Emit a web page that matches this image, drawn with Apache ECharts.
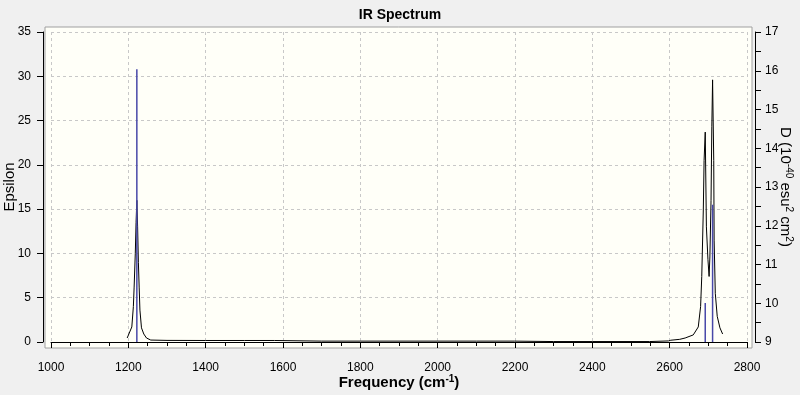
<!DOCTYPE html>
<html><head><meta charset="utf-8">
<script src="https://cdn.jsdelivr.net/npm/echarts@6/dist/echarts.min.js"></script>
<style>html,body{margin:0;padding:0;background:#f0f0f0}#c{width:800px;height:395px}</style>
</head><body><div id="c"></div>
<script>
// Spectrum curve (frequency in cm-1, epsilon)
var curveFreq = [1197,1209,1213,1215,1218,1220,1222,1224,1226,1228,1230,1234,1240,1247,1258,1300,1400,1500,1578,1582,1700,1800,1900,2000,2100,2198,2203,2300,2400,2500,2548,2552,2597,2603,2626,2640,2661,2674,2680,2683,2687,2689,2692,2695,2699,2702,2704,2707,2709,2711,2714,2715,2718,2723,2730,2737];
var curveEps  = [0.45,1.7,4.0,6.2,10.0,13.5,16.0,13.0,9.0,6.2,3.6,1.6,0.9,0.45,0.22,0.18,0.17,0.17,0.17,0.1,0.1,0.1,0.1,0.1,0.1,0.1,0.05,0.05,0.05,0.05,0.05,0.12,0.12,0.2,0.3,0.45,0.8,1.7,4.0,7.4,14.9,20.5,23.7,13.0,9.3,7.4,9.6,16.0,24.3,29.6,20.5,11.5,5.5,2.9,1.6,0.9];
// Stick spectrum
var stickFreq = [1222, 2692, 2711];
var stickVal  = [30.8, 4.4, 15.5];
// Axis ticks
var xTicks = {min: 1000, max: 2800, interval: 200};
var yTicks = {min: 0, max: 35, interval: 5};
var dTicks = {min: 9, max: 17, interval: 1};

var curveData = curveFreq.map(function(f, i){ return [f, curveEps[i]]; });
var stickData = stickFreq.map(function(f, i){ return [f, stickVal[i]]; });
var plain = function(v){ return String(v); };

var FONT = 'Liberation Sans';
var chart = echarts.init(document.getElementById('c'));
chart.setOption({
  backgroundColor: '#f0f0f0',
  animation: false,
  title: {text: 'IR Spectrum', left: 'center', top: 3,
    textStyle: {fontFamily: FONT, fontSize: 14, fontWeight: 'bold', color: '#000'}},
  grid: [
    {left: 45, right: 48, top: 27, bottom: 47, show: true, backgroundColor: '#fffff8', borderColor: '#a0a0a0', borderWidth: 1, containLabel: false, outerBoundsMode: 'none'},
    {left: 51, right: 53, top: 32, bottom: 53, containLabel: false, outerBoundsMode: 'none'}
  ],
  xAxis: [
    {gridIndex: 0, type: 'value', show: false, min: 0, max: 1},
    {gridIndex: 1, type: 'value', min: xTicks.min, max: xTicks.max, interval: xTicks.interval, offset: 10,
     name: 'Frequency (cm{sup|-1})', nameLocation: 'middle', nameGap: 22, nameMoveOverlap: false,
     nameTextStyle: {fontFamily: FONT, fontSize: 15, fontWeight: 'bold', color: '#000', lineHeight: 18,
       rich: {sup: {fontFamily: FONT, fontSize: 10, fontWeight: 'bold', color: '#000', verticalAlign: 'top', lineHeight: 10}}},
     axisLine: {show: true, lineStyle: {color: '#000'}},
     axisTick: {show: true, length: 6, lineStyle: {color: '#000'}},
     minorTick: {show: true, splitNumber: 4, length: 4, lineStyle: {color: '#000'}},
     axisLabel: {fontFamily: FONT, fontSize: 12, color: '#000', margin: 10, formatter: plain},
     splitLine: {show: true, lineStyle: {color: '#c8c8c8', type: [3, 3]}}}
  ],
  yAxis: [
    {gridIndex: 0, type: 'value', show: false, min: 0, max: 1},
    {gridIndex: 1, type: 'value', min: yTicks.min, max: yTicks.max, interval: yTicks.interval, offset: 8,
     name: 'Epsilon', nameLocation: 'middle', nameGap: 26, nameMoveOverlap: false,
     nameTextStyle: {fontFamily: FONT, fontSize: 15, color: '#000'},
     axisLine: {show: true, lineStyle: {color: '#000'}},
     axisTick: {show: true, length: 6, lineStyle: {color: '#000'}},
     axisLabel: {fontFamily: FONT, fontSize: 12, color: '#000', margin: 12, formatter: plain},
     splitLine: {show: true, lineStyle: {color: '#c8c8c8', type: [3, 3]}}},
    {gridIndex: 1, type: 'value', position: 'right', min: dTicks.min, max: dTicks.max, interval: dTicks.interval, offset: 8,
     name: 'D (10{sup|-40} esu{sup|2} cm{sup|2})', nameLocation: 'middle', nameGap: 21, nameRotate: -90, nameMoveOverlap: false,
     nameTextStyle: {fontFamily: FONT, fontSize: 15, color: '#000', lineHeight: 18,
       rich: {sup: {fontFamily: FONT, fontSize: 10, color: '#000', verticalAlign: 'top', lineHeight: 10}}},
     axisLine: {show: true, lineStyle: {color: '#000'}},
     axisTick: {show: true, length: 6, lineStyle: {color: '#000'}},
     minorTick: {show: true, splitNumber: 2, length: 6, lineStyle: {color: '#000'}},
     axisLabel: {fontFamily: FONT, fontSize: 12, color: '#000', margin: 10, formatter: plain},
     splitLine: {show: false}}
  ],
  series: [
    {type: 'line', xAxisIndex: 1, yAxisIndex: 1, data: curveData, showSymbol: false, symbol: 'none',
     lineStyle: {color: '#000', width: 1}, z: 2},
    {type: 'bar', xAxisIndex: 1, yAxisIndex: 1, data: stickData, barWidth: 1.5,
     itemStyle: {color: '#4848a8'}, z: 3}
  ]
});
</script></body></html>
